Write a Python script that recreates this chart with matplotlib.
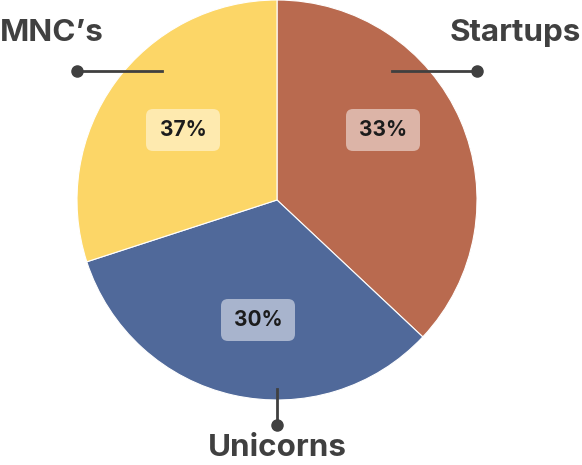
import matplotlib
matplotlib.use('Agg')
import matplotlib.pyplot as plt
from matplotlib.patches import FancyBboxPatch

plt.rcParams['font.family'] = ['Inter', 'DejaVu Sans']

# data
categories = ['Startups', 'Unicorns', "MNC\u2019s"]
shares = [37, 33, 30]                 # slice sizes as drawn
pct_labels = ['33%', '30%', '37%']    # labels as printed on the chart
colors = ['#B96A4F', '#50699A', '#FCD667']
box_colors = ['#DCB4A7', '#A8B4CD', '#FEEAAF']

W, H = 582, 465
fig = plt.figure(figsize=(W / 100, H / 100), dpi=100)
ax = fig.add_axes([0, 0, 1, 1])

cx, cy, r = 277, H - 200, 200
ax.pie(shares, colors=colors, startangle=90, counterclock=False,
       center=(cx, cy), radius=r, frame=True,
       wedgeprops=dict(edgecolor='white', linewidth=0.8))
ax.set_xlim(0, W)
ax.set_ylim(0, H)
ax.set_aspect('equal')
ax.axis('off')

# percentage boxes (pixel positions, y from top)
box_pos = [(383, 130), (258, 320), (183, 130)]
bw, bh = 74, 42
for (x, y), txt, bc in zip(box_pos, pct_labels, box_colors):
    yy = H - y
    ax.add_patch(FancyBboxPatch((x - bw / 2 + 7, yy - bh / 2 + 7), bw - 14, bh - 14,
                                boxstyle='round,pad=7', fc=bc, ec='none', zorder=3))
    ax.text(x, yy, txt, ha='center', va='center', fontsize=15,
            fontweight='bold', color='#1c1c1c', zorder=4)

# leader lines and category labels
lc = '#404040'
fs = 22.6
ax.plot([392, 477], [H - 71, H - 71], color=lc, lw=2, zorder=5)
ax.plot([477], [H - 71], 'o', color=lc, ms=8, zorder=5)
ax.text(581, H - 33, categories[0], ha='right', va='center', fontsize=fs,
        fontweight='bold', color=lc)

ax.plot([277, 277], [H - 389, H - 425], color=lc, lw=2, zorder=5)
ax.plot([277], [H - 425], 'o', color=lc, ms=8, zorder=5)
ax.text(277, H - 448, categories[1], ha='center', va='center', fontsize=fs,
        fontweight='bold', color=lc)

ax.plot([77, 162], [H - 71, H - 71], color=lc, lw=2, zorder=5)
ax.plot([77], [H - 71], 'o', color=lc, ms=8, zorder=5)
ax.text(0, H - 33, categories[2], ha='left', va='center', fontsize=fs,
        fontweight='bold', color=lc)

fig.savefig('out.png', dpi=100)
